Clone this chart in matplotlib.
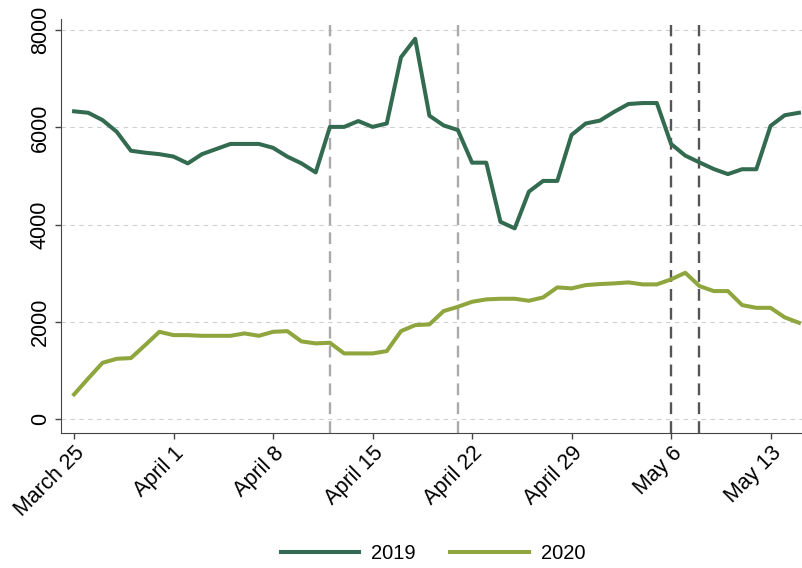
import matplotlib.pyplot as plt

plt.rcParams['font.family'] = ['Liberation Sans', 'DejaVu Sans']

# valori (giorni dal 25 marzo)
giorni = list(range(52))
v2019 = [6330, 6300, 6150, 5910, 5520, 5480, 5450, 5400, 5260, 5450,
         5555, 5660, 5660, 5660, 5580, 5400, 5260, 5075, 6010, 6010,
         6130, 6010, 6080, 7440, 7820, 6240, 6040, 5945, 5275, 5275,
         4060, 3925, 4680, 4900, 4900, 5845, 6080, 6140, 6320, 6480,
         6500, 6500, 5660, 5420, 5280, 5145, 5040, 5140, 5140, 6030,
         6250, 6300]
v2020 = [514, 843, 1163, 1246, 1260, 1527, 1800, 1732, 1732, 1718,
         1718, 1718, 1767, 1718, 1800, 1814, 1603, 1562, 1575, 1356,
         1356, 1356, 1404, 1814, 1938, 1952, 2226, 2314, 2417, 2466,
         2479, 2479, 2438, 2507, 2713, 2692, 2760, 2781, 2795, 2815,
         2774, 2774, 2877, 3013, 2740, 2637, 2637, 2349, 2293, 2293,
         2096, 1986]
tick_giorni = [0, 7, 14, 21, 28, 35, 42, 49]
tick_label = ['March 25', 'April 1', 'April 8', 'April 15', 'April 22',
              'April 29', 'May 6', 'May 13']
linee_chiare = [18, 27]  # April 12, April 21
linee_scure = [42, 44]   # May 6, May 8

fig = plt.figure(figsize=(8.03, 5.68), dpi=100)
ax = fig.add_axes([0.0756, 0.238, 0.93, 0.7285])

for y in [0, 2000, 4000, 6000, 8000]:
    ax.axhline(y, color='#d0d0d0', linestyle=(0, (4, 4)), linewidth=0.8, zorder=0)
for x in linee_chiare:
    ax.axvline(x, color='#aaaaaa', linestyle=(0, (5, 3)), linewidth=1.7, ymax=0.985, zorder=1)
for x in linee_scure:
    ax.axvline(x, color='#555555', linestyle=(0, (5, 3)), linewidth=1.7, ymax=0.985, zorder=1)

ax.plot(giorni, v2019, color='#336b50', linewidth=2.9, label='2019', zorder=3)
ax.plot(giorni, v2020, color='#8fa53e', linewidth=2.9, label='2020', zorder=3)

ax.set_xlim(-0.94, 51.6)
ax.set_ylim(-275, 8226)
ax.set_yticks([0, 2000, 4000, 6000, 8000])
ax.set_yticklabels(['0', '2000', '4000', '6000', '8000'], rotation=90, va='center', fontsize=15.5)
ax.set_xticks(tick_giorni)
ax.set_xticklabels(tick_label, rotation=45, ha='right', rotation_mode='anchor', fontsize=15.5)
ax.tick_params(direction='out', length=4, color='#444444', width=1, pad=3)
ax.spines['top'].set_visible(False)
ax.spines['right'].set_visible(False)
ax.spines['left'].set_color('#444444')
ax.spines['bottom'].set_color('#444444')

fig.legend(loc='center', bbox_to_anchor=(0.539, 0.026), ncol=2, frameon=False,
           fontsize=14.5, handlelength=3.9, handletextpad=0.6, columnspacing=1.7,
           borderpad=0)

plt.savefig('out.png', dpi=100)
